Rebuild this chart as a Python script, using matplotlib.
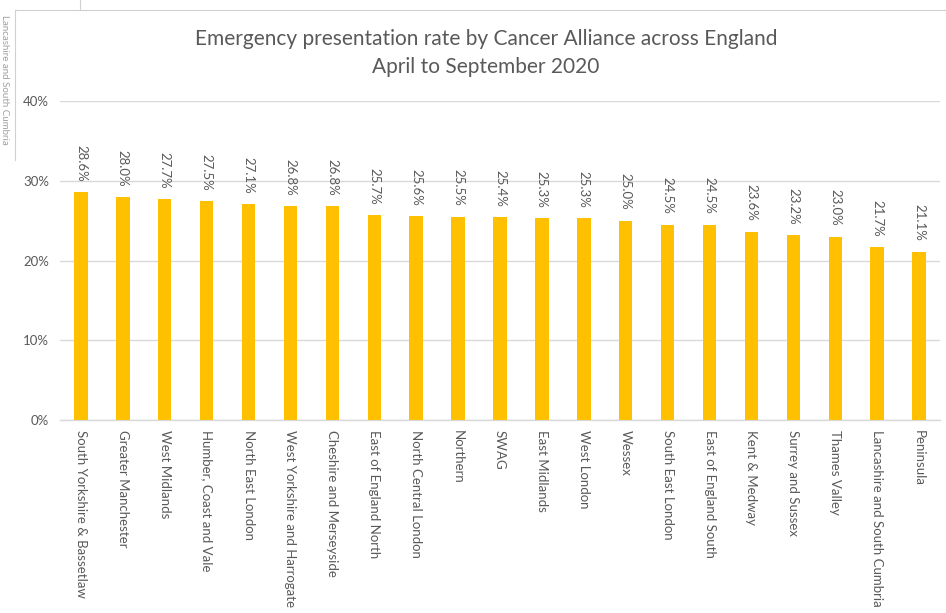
import matplotlib
matplotlib.use("Agg")
import matplotlib.pyplot as plt
from matplotlib.ticker import FuncFormatter

plt.rcParams['font.family'] = ['Lato', 'DejaVu Sans']

alliances = [
    "South Yorkshire & Bassetlaw", "Greater Manchester", "West Midlands",
    "Humber, Coast and Vale", "North East London", "West Yorkshire and Harrogate",
    "Cheshire and Merseyside", "East of England North", "North Central London",
    "Northern", "SWAG", "East Midlands", "West London", "Wessex",
    "South East London", "East of England South", "Kent & Medway",
    "Surrey and Sussex", "Thames Valley", "Lancashire and South Cumbria",
    "Peninsula",
]
rates = [28.6, 28.0, 27.7, 27.5, 27.1, 26.8, 26.8, 25.7, 25.6, 25.5, 25.4,
         25.3, 25.3, 25.0, 24.5, 24.5, 23.6, 23.2, 23.0, 21.7, 21.1]
y_ticks = [0, 10, 20, 30, 40]

text_color = "#595959"
bar_color = "#FFC000"
grid_color = "#D9D9D9"

fig = plt.figure(figsize=(9.46, 6.13), dpi=100)
ax = fig.add_axes([60 / 946, 1 - 420 / 613, 880 / 946, 319 / 613])

x = list(range(len(alliances)))
ax.bar(x, rates, width=0.32, color=bar_color, zorder=3)

for xi, v in zip(x, rates):
    ax.annotate(f"{v:.1f}%", (xi, v), xytext=(0, 7.5), textcoords="offset points",
                rotation=270, ha="center", va="bottom", fontsize=9.5,
                color=text_color)

ax.set_xlim(-0.5, len(alliances) - 0.5)
ax.set_ylim(0, 40)
ax.set_yticks(y_ticks)
ax.yaxis.set_major_formatter(FuncFormatter(lambda v, p: f"{v:.0f}%"))
ax.set_xticks(x)
ax.set_xticklabels(alliances, rotation=270, ha="center", va="top",
                   fontsize=9.5, color=text_color)
ax.tick_params(axis="x", length=0, pad=7)
ax.tick_params(axis="y", length=0, pad=8, labelsize=9.5, labelcolor=text_color)

ax.grid(axis="y", color=grid_color, linewidth=1, zorder=0)
for side in ("top", "right", "left"):
    ax.spines[side].set_visible(False)
ax.spines["bottom"].set_color(grid_color)
ax.spines["bottom"].set_linewidth(1)

fig.text(486 / 946, 1 - 39 / 613,
         "Emergency presentation rate by Cancer Alliance across England",
         ha="center", va="center", fontsize=15, color=text_color)
fig.text(486 / 946, 1 - 67 / 613, "April to September 2020",
         ha="center", va="center", fontsize=15, color=text_color)

# faint frame lines at the top-left corner
fig.add_artist(plt.Line2D([15 / 946, 1], [1 - 10 / 613, 1 - 10 / 613],
                          color="#D0D0D0", linewidth=0.8))
fig.add_artist(plt.Line2D([15 / 946, 15 / 946], [1 - 10 / 613, 1 - 160 / 613],
                          color="#D0D0D0", linewidth=0.8))
fig.add_artist(plt.Line2D([80 / 946, 80 / 946], [1, 1 - 10 / 613],
                          color="#D0D0D0", linewidth=0.8))
fig.text(4 / 946, 1 - 80 / 613, "Lancashire and South Cumbria",
         rotation=270, ha="center", va="center", fontsize=7, color="#A0A0A0")

fig.savefig("out.png", dpi=100, facecolor="white")
